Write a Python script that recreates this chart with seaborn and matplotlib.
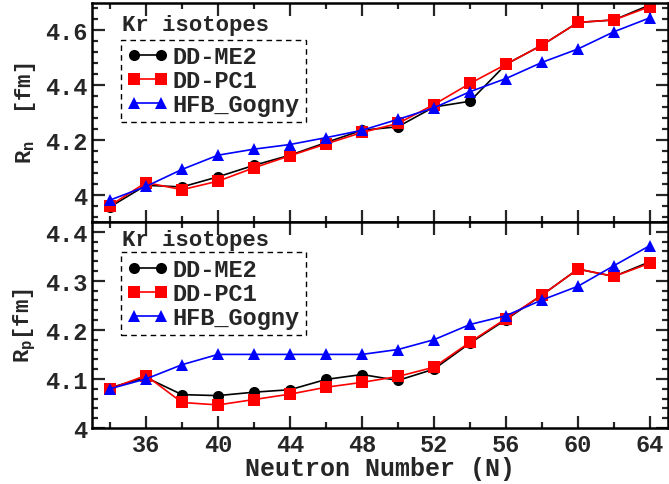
import matplotlib
matplotlib.use("Agg")
import numpy as np
import pandas as pd
import seaborn as sns
import matplotlib.pyplot as plt
from matplotlib.lines import Line2D
from matplotlib.ticker import MultipleLocator, FuncFormatter

# Neutron numbers of the Kr isotopes
N = [34, 36, 38, 40, 42, 44, 46, 48, 50, 52, 54, 56, 58, 60, 62, 64]

# Neutron rms radii (fm)
rn_ddme2 = [3.955, 4.034, 4.028, 4.065, 4.107, 4.144, 4.190, 4.235, 4.248, 4.320,
            4.341, 4.476, 4.546, 4.629, 4.638, 4.693]
rn_ddpc1 = [3.960, 4.044, 4.018, 4.049, 4.098, 4.142, 4.185, 4.227, 4.260, 4.329,
            4.406, 4.476, 4.546, 4.629, 4.638, 4.687]
rn_gogny = [3.980, 4.030, 4.092, 4.144, 4.166, 4.183, 4.208, 4.235, 4.275, 4.317,
            4.376, 4.424, 4.483, 4.532, 4.595, 4.646]

# Proton rms radii (fm)
rp_ddme2 = [4.082, 4.103, 4.068, 4.066, 4.073, 4.078, 4.099, 4.109, 4.097, 4.120,
            4.173, 4.221, 4.271, 4.324, 4.309, 4.339]
rp_ddpc1 = [4.080, 4.107, 4.052, 4.047, 4.058, 4.069, 4.083, 4.093, 4.105, 4.124,
            4.175, 4.223, 4.271, 4.324, 4.309, 4.336]
rp_gogny = [4.080, 4.100, 4.129, 4.150, 4.150, 4.150, 4.150, 4.150, 4.160, 4.180,
            4.211, 4.229, 4.261, 4.289, 4.331, 4.372]

models = ["DD-ME2", "DD-PC1", "HFB_Gogny"]
colors = {"DD-ME2": "black", "DD-PC1": "red", "HFB_Gogny": "blue"}
markers = {"DD-ME2": "o", "DD-PC1": "s", "HFB_Gogny": "^"}

sns.set_style("ticks")
plt.rcParams["font.family"] = ["Liberation Mono", "DejaVu Sans"]
plt.rcParams["font.weight"] = "bold"
plt.rcParams["axes.labelweight"] = "bold"
plt.rcParams["mathtext.fontset"] = "custom"
plt.rcParams["mathtext.rm"] = "Liberation Mono:bold"
plt.rcParams["mathtext.it"] = "Liberation Mono:bold"
plt.rcParams["mathtext.bf"] = "Liberation Mono:bold"


def long_frame(series):
    rows = []
    for name, vals in zip(models, series):
        for n, v in zip(N, vals):
            rows.append({"N": n, "R": v, "model": name})
    return pd.DataFrame(rows)


fig = plt.figure(figsize=(6.69, 4.85), dpi=100)
gs = fig.add_gridspec(2, 1, height_ratios=[219, 206], hspace=0,
                      left=0.1375, right=0.9985, top=0.9918, bottom=0.1155)
ax_n = fig.add_subplot(gs[0])
ax_p = fig.add_subplot(gs[1], sharex=ax_n)

panels = [
    (ax_n, long_frame([rn_ddme2, rn_ddpc1, rn_gogny]), (3.9, 4.7), 0.2, 0.04,
     r"R$_\mathrm{n}$  [fm]", 0.833, 0.904),
    (ax_p, long_frame([rp_ddme2, rp_ddpc1, rp_gogny]), (4.0, 4.42), 0.1, 0.02,
     r"R$_\mathrm{p}$[fm]", 0.852, 0.917),
]

fmt = FuncFormatter(lambda v, pos: "4" if abs(v - 4) < 1e-9 else f"{v:.1f}")

for ax, df, ylim, major, minor, ylabel, leg_y, txt_y in panels:
    sns.lineplot(data=df, x="N", y="R", hue="model", style="model",
                 hue_order=models, style_order=models, palette=colors,
                 markers=markers, dashes=False, markersize=8,
                 markeredgewidth=0, linewidth=1.2, legend=False, ax=ax)
    ax.set_xlim(33, 65)
    ax.set_ylim(*ylim)
    ax.yaxis.set_major_locator(MultipleLocator(major))
    ax.yaxis.set_minor_locator(MultipleLocator(minor))
    ax.yaxis.set_major_formatter(fmt)
    ax.xaxis.set_major_locator(MultipleLocator(4))
    ax.xaxis.set_minor_locator(MultipleLocator(2))
    ax.tick_params(which="both", direction="in", top=True, right=True,
                   width=1.6, labelsize=17)
    ax.tick_params(which="major", length=9)
    ax.tick_params(which="minor", length=4.5)
    for sp in ax.spines.values():
        sp.set_linewidth(1.8)
        sp.set_color("black")
    ax.set_ylabel(ylabel, fontsize=16, labelpad=5)
    ax.set_xlabel("")

    handles = [Line2D([], [], color=colors[m], marker=markers[m], markersize=8,
                      markeredgewidth=0, linewidth=1.2) for m in models]
    leg = ax.legend(handles, models, numpoints=2, loc="upper left",
                    bbox_to_anchor=(0.05, leg_y), fontsize=17, frameon=True,
                    fancybox=False, framealpha=1, edgecolor="black",
                    borderpad=0.25, handlelength=1.75, handletextpad=0.2,
                    labelspacing=0.03, borderaxespad=0)
    leg.get_frame().set_linestyle((0, (4, 3)))
    leg.get_frame().set_linewidth(1.0)
    ax.text(0.052, txt_y, "Kr isotopes", transform=ax.transAxes, fontsize=16,
            fontweight="bold", va="center", ha="left")

ax_n.tick_params(labelbottom=False)
ax_p.set_xlabel("Neutron Number (N)", fontsize=18, labelpad=0)

fig.savefig("out.png", dpi=100)
